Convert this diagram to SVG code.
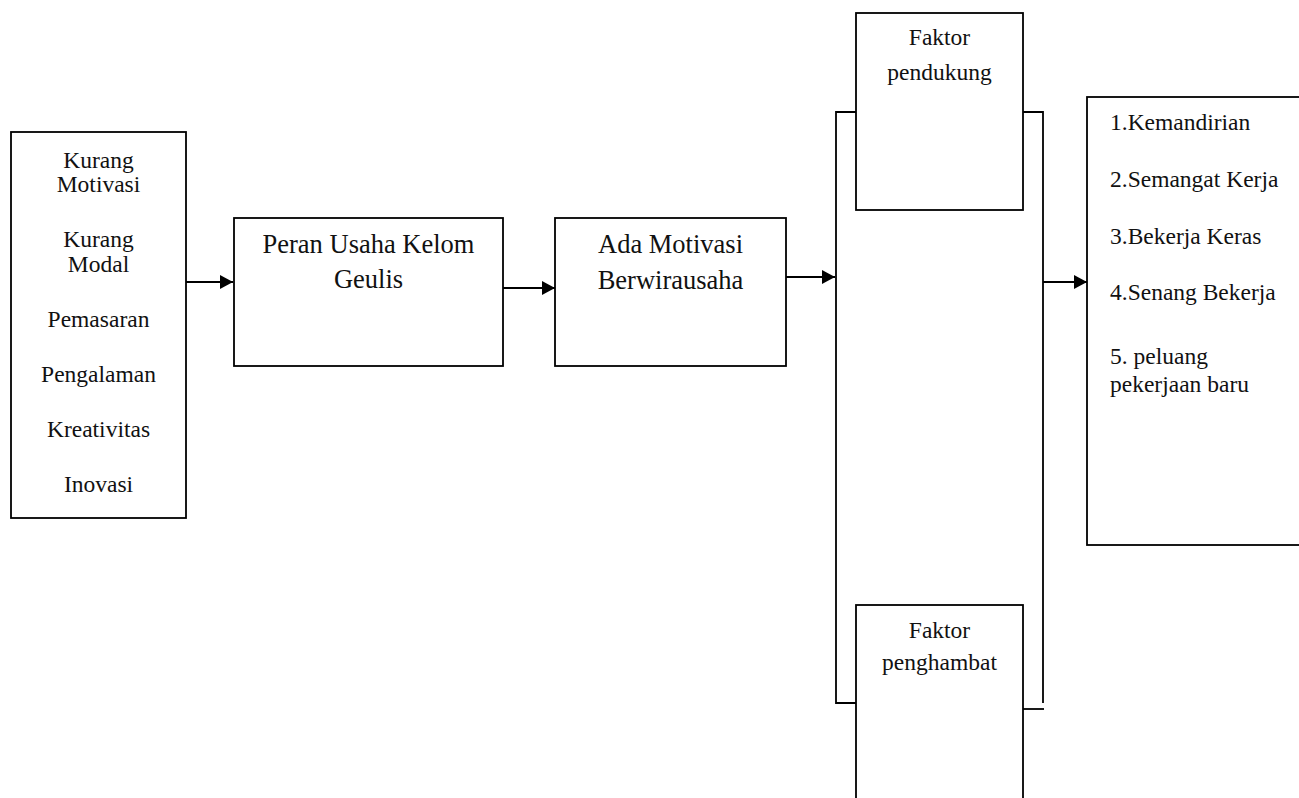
<svg xmlns="http://www.w3.org/2000/svg" width="1299" height="798" viewBox="0 0 1299 798">
  <defs>
    <marker id="arrow" markerWidth="14" markerHeight="14" refX="13" refY="7" orient="auto" markerUnits="userSpaceOnUse">
      <path d="M0,0 L13,7 L0,14 Z" fill="#000"/>
    </marker>
    <style>
      .box { fill: #fff; stroke: #000; stroke-width: 1.8; }
      .line { fill: none; stroke: #000; stroke-width: 1.8; }
      .arrow { fill: none; stroke: #000; stroke-width: 2.2; marker-end: url(#arrow); }
      text { font-family: "Liberation Serif", "Times New Roman", serif; fill: #111; }
      .sm { font-size: 23.5px; }
      .lg { font-size: 26.5px; }
      .c { text-anchor: middle; }
    </style>
  </defs>
  <rect width="1299" height="798" fill="#fff"/>

  <!-- connectors and the bracket joining the two factor boxes -->
  <g id="connectors">
    <line class="arrow" x1="186" y1="282" x2="233" y2="282"/>
    <line class="arrow" x1="503" y1="288" x2="555" y2="288"/>
    <line class="arrow" x1="786" y1="277" x2="835" y2="277"/>
    <line class="arrow" x1="1043" y1="282" x2="1087" y2="282"/>
    <polyline class="line" points="856,112 836,112 836,703 856,703"/>
    <polyline class="line" points="1023,112 1043,112 1043,703"/>
    <line class="line" x1="1023" y1="709" x2="1044" y2="709"/>
  </g>

  <g id="problems">
    <rect class="box" x="11" y="132" width="175" height="386"/>
    <text class="sm c" x="98.5" y="168">Kurang</text>
    <text class="sm c" x="98.5" y="192">Motivasi</text>
    <text class="sm c" x="98.5" y="247">Kurang</text>
    <text class="sm c" x="98.5" y="272">Modal</text>
    <text class="sm c" x="98.5" y="327">Pemasaran</text>
    <text class="sm c" x="98.5" y="382">Pengalaman</text>
    <text class="sm c" x="98.5" y="437">Kreativitas</text>
    <text class="sm c" x="98.5" y="492">Inovasi</text>
  </g>

  <g id="peran">
    <rect class="box" x="234" y="218" width="269" height="148"/>
    <text class="lg c" x="368.5" y="253">Peran Usaha Kelom</text>
    <text class="lg c" x="368.5" y="288">Geulis</text>
  </g>

  <g id="motivasi">
    <rect class="box" x="555" y="218" width="231" height="148"/>
    <text class="lg c" x="670.5" y="253">Ada Motivasi</text>
    <text class="lg c" x="670.5" y="289">Berwirausaha</text>
  </g>

  <g id="pendukung">
    <rect class="box" x="856" y="13" width="167" height="197"/>
    <text class="sm c" x="939.5" y="45">Faktor</text>
    <text class="sm c" x="939.5" y="80">pendukung</text>
  </g>

  <g id="penghambat">
    <rect class="box" x="856" y="605" width="167" height="200"/>
    <text class="sm c" x="939.5" y="638">Faktor</text>
    <text class="sm c" x="939.5" y="670">penghambat</text>
  </g>

  <g id="hasil">
    <rect class="box" x="1087" y="97" width="220" height="448"/>
    <text class="sm" x="1110" y="130">1.Kemandirian</text>
    <text class="sm" x="1110" y="187">2.Semangat Kerja</text>
    <text class="sm" x="1110" y="244">3.Bekerja Keras</text>
    <text class="sm" x="1110" y="300">4.Senang Bekerja</text>
    <text class="sm" x="1110" y="364">5. peluang</text>
    <text class="sm" x="1110" y="392">pekerjaan baru</text>
  </g>
</svg>
